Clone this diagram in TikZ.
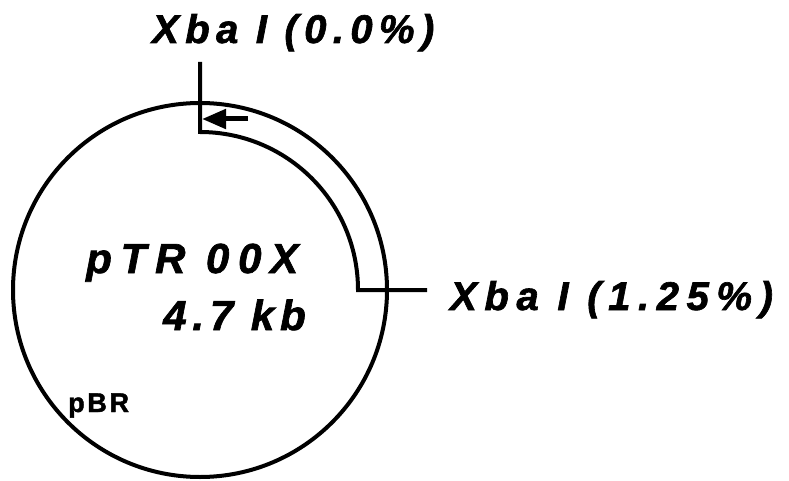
\documentclass[tikz,border=0pt]{standalone}
\usepackage{fontspec}
\setmainfont{Liberation Sans}
\usetikzlibrary{arrows.meta}
\newfontfamily\labelfont[FakeBold=1.6]{Liberation Sans}
% #1 = letter spacing, size fixed per style
\tikzset{
  mapline/.style={line width=4pt},
  sitelabel/.style={anchor=base west, inner sep=0pt,
    font=\labelfont\addfontfeature{LetterSpace=#1}\fontsize{40}{40}\selectfont\bfseries\itshape},
  namelabel/.style={anchor=base west, inner sep=0pt,
    font=\labelfont\addfontfeature{LetterSpace=#1}\fontsize{42}{42}\selectfont\bfseries\itshape},
  smalllabel/.style={anchor=base west, inner sep=0pt,
    font=\labelfont\addfontfeature{LetterSpace=#1}\fontsize{27}{27}\selectfont\bfseries},
}
\begin{document}
\begin{tikzpicture}[x=1pt,y=1pt]
\useasboundingbox (0,0) rectangle (789,480);
% plasmid backbone
\coordinate (c) at (200,190);
\draw[mapline] (c) circle[radius=187];
% insert region between the two XbaI sites
\coordinate (topin) at (200,348);
\coordinate (topout) at (200,418);
\coordinate (rightin) at (358,190);
\coordinate (rightout) at (427,190);
\draw[mapline, line join=miter] (topout) -- (topin) arc[start angle=90, end angle=0, radius=158] -- (rightout);
% orientation arrow
\coordinate (arrs) at (248,361);
\coordinate (arre) at (202,361);
\draw[line width=5pt, -{Triangle[length=24pt,width=19pt]}] (arrs) -- (arre);
% labels
\node[sitelabel=16] (xba0) at (152,437) {Xba I (0.0\%)};
\node[sitelabel=19] (xba1) at (450,170) {Xba I (1.25\%)};
\node[namelabel=21] (name) at (86,207) {pTR 00X};
\node[namelabel=14] (size) at (163,150) {4.7 kb};
\node[smalllabel=10] (pbr) at (68,68) {pBR};
\end{tikzpicture}
\end{document}
